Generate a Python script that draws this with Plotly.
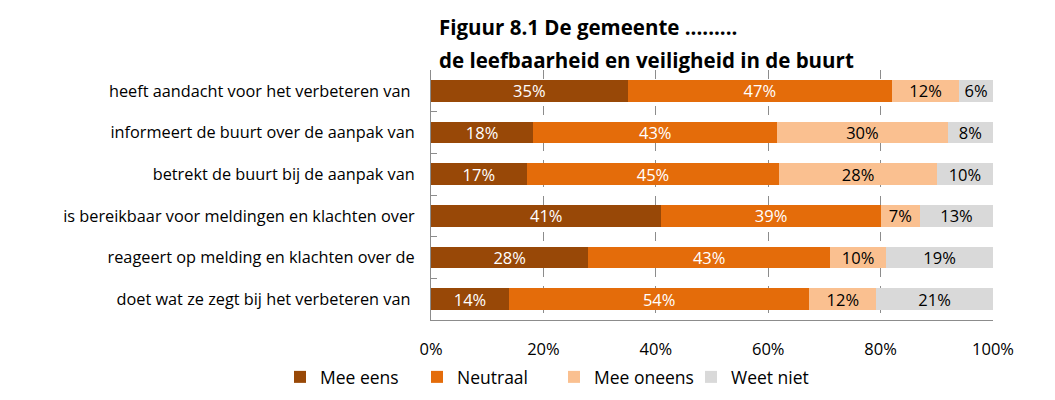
import plotly.graph_objects as go

categories = [
    "heeft aandacht voor het verbeteren van ",
    "informeert de buurt over de aanpak van",
    "betrekt de buurt bij de aanpak van",
    "is bereikbaar voor meldingen en klachten over",
    "reageert op melding en klachten over de",
    "doet wat ze zegt bij het verbeteren van ",
]
mee_eens = [35, 18, 17, 41, 28, 14]
neutraal = [47, 43, 45, 39, 43, 54]
mee_oneens = [12, 30, 28, 7, 10, 12]
weet_niet = [6, 8, 10, 13, 19, 21]

series = [
    ("Mee eens", mee_eens, "#984807", "white"),
    ("Neutraal", neutraal, "#E46C0A", "white"),
    ("Mee oneens", mee_oneens, "#FAC090", "black"),
    ("Weet niet", weet_niet, "#D9D9D9", "black"),
]

font = "Open Sans, Liberation Sans, sans-serif"

# page body has an 8px margin, so the figure is 8px smaller
W, H = 1047, 392
L, T, R, B = 423, 62, 62, 80
pw, ph = W - L - R, H - T - B

fig = go.Figure()
for name, vals, color, tcolor in series:
    fig.add_trace(go.Bar(
        y=categories, x=vals, name=name, orientation="h",
        marker_color=color, marker_line_width=0,
        text=[f"{v}%" for v in vals], textposition="inside",
        insidetextanchor="middle", textangle=0, constraintext="none",
        textfont=dict(color=tcolor, size=16.5, family=font),
        hoverinfo="skip",
    ))

# title as two annotations
for txt, ypx in [("<b>Figuur 8.1 De gemeente .........</b>", 27),
                 ("<b>de leefbaarheid en veiligheid in de buurt</b>", 60)]:
    fig.add_annotation(
        text=txt, xref="paper", yref="paper",
        x=(437 - 431) / pw, y=1 + (70 - ypx) / ph,
        xanchor="left", yanchor="middle", showarrow=False,
        font=dict(size=20.5, family=font, color="black"),
    )

fig.update_layout(
    barmode="stack", barnorm="percent", bargap=0.48,
    width=W, height=H,
    margin=dict(l=L, r=R, t=T, b=B, autoexpand=False),
    plot_bgcolor="white", paper_bgcolor="white",
    font=dict(family=font, size=16, color="black"),
    legend=dict(
        orientation="h", x=(554 - 431) / pw, xanchor="center",
        y=-(377 - 320) / ph, yanchor="middle",
        font=dict(size=17.5), traceorder="normal", itemwidth=30,
        entrywidth=92, entrywidthmode="pixels",
    ),
)
fig.update_xaxes(
    range=[0, 100], tickvals=[0, 20, 40, 60, 80, 100],
    ticktext=["0%", "20%", "40%", "60%", "80%", "100%"],
    showgrid=True, gridcolor="#8c8c8c", griddash="dash", gridwidth=1,
    zeroline=False, showline=True, linecolor="#8c8c8c", linewidth=1,
    tickfont=dict(size=16.5), automargin=False, ticklabelstandoff=14,
)
fig.update_yaxes(
    autorange="reversed", showline=True, linecolor="#8c8c8c", linewidth=1,
    ticks="inside", ticklen=6, tickcolor="#8c8c8c", tickson="boundaries",
    tickfont=dict(size=16.3), automargin=False, ticklabelstandoff=12,
)

fig.write_html("out.html")
